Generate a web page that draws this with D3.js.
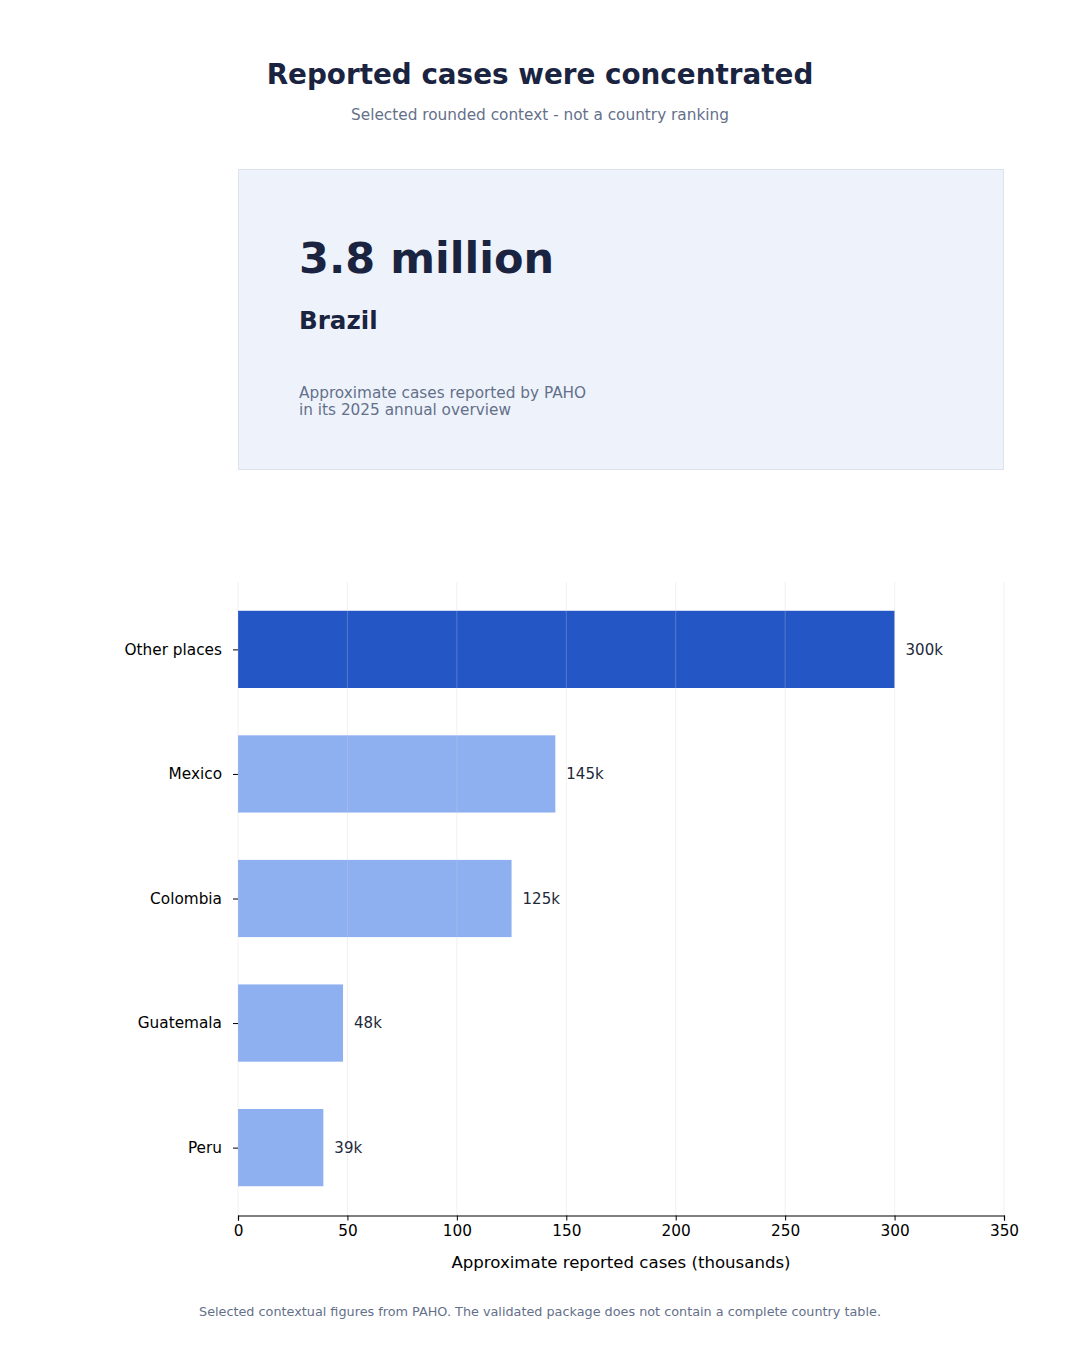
<!DOCTYPE html>
<html><head><meta charset="utf-8">
<script src="https://cdn.jsdelivr.net/npm/d3@7"></script>
<style>body{margin:0;background:#fff}svg{display:block;font-family:"DejaVu Sans",sans-serif}</style>
</head><body>
<svg id="c" width="1080" height="1350"></svg>
<script>
const categories = ["Other places","Mexico","Colombia","Guatemala","Peru"];
const values = [300,145,125,48,39];
const valueLabels = ["300k","145k","125k","48k","39k"];
const xTicks = [0,50,100,150,200,250,300,350];
const title = "Reported cases were concentrated";
const subtitle = "Selected rounded context - not a country ranking";
const cardValue = "3.8 million";
const cardCountry = "Brazil";
const cardNote = ["Approximate cases reported by PAHO","in its 2025 annual overview"];
const xLabel = "Approximate reported cases (thousands)";
const footer = "Selected contextual figures from PAHO. The validated package does not contain a complete country table.";

const svg = d3.select("#c");
const navy = "#1a2440", gray = "#64708a";

svg.append("text").attr("x",540).attr("y",84).attr("text-anchor","middle")
  .attr("font-size",27.8).attr("font-weight","bold").attr("fill",navy).text(title);
svg.append("text").attr("x",540).attr("y",120).attr("text-anchor","middle")
  .attr("font-size",15.3).attr("fill",gray).text(subtitle);

// card
svg.append("rect").attr("x",238.5).attr("y",169.5).attr("width",765).attr("height",300)
  .attr("fill","#eef3fb").attr("stroke","#dce3ee").attr("stroke-width",1);
svg.append("text").attr("x",299).attr("y",273).attr("font-size",43).attr("font-weight","bold")
  .attr("fill",navy).text(cardValue);
svg.append("text").attr("x",299).attr("y",329).attr("font-size",24.6).attr("font-weight","bold")
  .attr("fill",navy).text(cardCountry);
cardNote.forEach((t,i)=>svg.append("text").attr("x",299).attr("y",398+i*17)
  .attr("font-size",15.3).attr("fill",gray).text(t));

// chart
const x = d3.scaleLinear().domain([0,350]).range([238,1004]);
const y = d3.scaleLinear().domain([-0.541,4.541]).range([582,1215]);
const bh = 0.62;
const g = svg.append("g");

g.selectAll("rect.bar").data(values).join("rect").attr("class","bar")
  .attr("x",x(0)).attr("y",(d,i)=>y(i-bh/2)).attr("width",d=>x(d)-x(0))
  .attr("height",(d,i)=>y(i+bh/2)-y(i-bh/2))
  .attr("fill",(d,i)=>i===0?"#2457c5":"#8fb0f0");

// grid over bars
g.selectAll("line.grid").data(xTicks).join("line").attr("class","grid")
  .attr("x1",d=>x(d)).attr("x2",d=>x(d)).attr("y1",582).attr("y2",1215)
  .attr("stroke","#cccccc").attr("stroke-opacity",0.3).attr("stroke-width",1);

g.selectAll("text.val").data(values).join("text").attr("class","val")
  .attr("x",d=>x(d)+11).attr("y",(d,i)=>y(i)).attr("dy","0.35em")
  .attr("font-size",15).attr("fill","#1e293b").text((d,i)=>valueLabels[i]);

// x axis
const xa = svg.append("g").attr("transform","translate(0,1215.5)")
  .call(d3.axisBottom(x).tickValues(xTicks).tickSize(5).tickPadding(5));
xa.select(".domain").attr("stroke","#000").attr("stroke-width",1.2);
xa.selectAll("text").attr("font-size",15.3).attr("fill","#000").attr("font-family","DejaVu Sans");
xa.selectAll("line").attr("stroke","#000");

// y axis
const ya = svg.append("g").attr("transform","translate(238,0)")
  .call(d3.axisLeft(y).tickValues(d3.range(categories.length)).tickFormat(i=>categories[i]).tickSize(5).tickPadding(11));
ya.select(".domain").remove();
ya.selectAll("text").attr("font-size",15.3).attr("fill","#000").attr("font-family","DejaVu Sans");
ya.selectAll("line").attr("stroke","#000");

svg.append("text").attr("x",621).attr("y",1268).attr("text-anchor","middle")
  .attr("font-size",16.6).attr("fill","#000").text(xLabel);
svg.append("text").attr("x",540).attr("y",1316).attr("text-anchor","middle")
  .attr("font-size",12.8).attr("fill",gray).text(footer);
</script>
</body></html>
